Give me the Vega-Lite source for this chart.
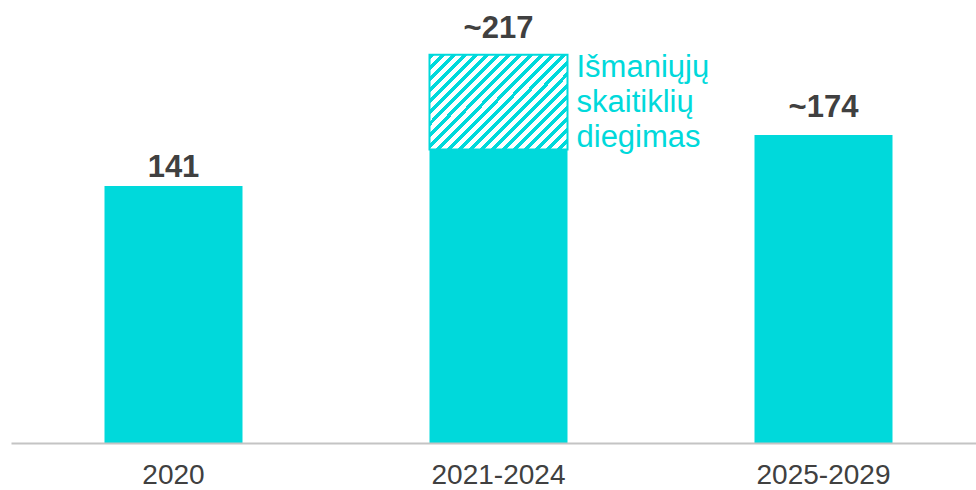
{
  "$schema": "https://vega.github.io/schema/vega-lite/v6.json",
  "autosize": "none",
  "padding": {"left": 11, "top": 0, "right": 0, "bottom": 47},
  "width": 975,
  "height": 443,
  "background": "white",
  "config": {"view": {"stroke": null}, "font": "Liberation Sans"},
  "data": {"values": [
    {"period": "2020", "base": 141, "top": null, "label": "141", "labelValue": 141},
    {"period": "2021-2024", "base": 161, "top": 213, "label": "~217", "labelValue": 217},
    {"period": "2025-2029", "base": 169, "top": null, "label": "~174", "labelValue": 174}
  ]},
  "encoding": {
    "x": {"field": "period", "type": "nominal", "sort": null,
      "scale": {"paddingInner": 0.5754, "paddingOuter": 0.2877},
      "axis": {"title": null, "labelAngle": 0, "ticks": false, "tickSize": 0, "labelPadding": 18,
        "labelFont": "Liberation Sans", "labelFontSize": 28, "labelColor": "#404040",
        "domainColor": "#c4c4c4", "domainWidth": 2, "zindex": 1}}
  },
  "layer": [
    {
      "mark": {"type": "bar", "color": "#00D9DB"},
      "encoding": {
        "y": {"field": "base", "type": "quantitative", "scale": {"domain": [0, 243], "nice": false}, "axis": null}
      }
    },
    {
      "transform": [{"filter": "datum.top != null"}],
      "mark": {"type": "bar", "stroke": "#00D9DB", "strokeWidth": 2,
        "fill": {"gradient": "linear", "x1": 0, "y1": 0, "x2": 1.148, "y2": 0.782, "stops": [
          {"offset": 0, "color": "#00D9DB"}, {"offset": 0.0214, "color": "#00D9DB"}, {"offset": 0.0214, "color": "#ffffff"}, {"offset": 0.0476, "color": "#ffffff"},
          {"offset": 0.0476, "color": "#00D9DB"}, {"offset": 0.0690, "color": "#00D9DB"}, {"offset": 0.0690, "color": "#ffffff"}, {"offset": 0.0952, "color": "#ffffff"},
          {"offset": 0.0952, "color": "#00D9DB"}, {"offset": 0.1167, "color": "#00D9DB"}, {"offset": 0.1167, "color": "#ffffff"}, {"offset": 0.1429, "color": "#ffffff"},
          {"offset": 0.1429, "color": "#00D9DB"}, {"offset": 0.1643, "color": "#00D9DB"}, {"offset": 0.1643, "color": "#ffffff"}, {"offset": 0.1905, "color": "#ffffff"},
          {"offset": 0.1905, "color": "#00D9DB"}, {"offset": 0.2119, "color": "#00D9DB"}, {"offset": 0.2119, "color": "#ffffff"}, {"offset": 0.2381, "color": "#ffffff"},
          {"offset": 0.2381, "color": "#00D9DB"}, {"offset": 0.2595, "color": "#00D9DB"}, {"offset": 0.2595, "color": "#ffffff"}, {"offset": 0.2857, "color": "#ffffff"},
          {"offset": 0.2857, "color": "#00D9DB"}, {"offset": 0.3071, "color": "#00D9DB"}, {"offset": 0.3071, "color": "#ffffff"}, {"offset": 0.3333, "color": "#ffffff"},
          {"offset": 0.3333, "color": "#00D9DB"}, {"offset": 0.3548, "color": "#00D9DB"}, {"offset": 0.3548, "color": "#ffffff"}, {"offset": 0.3810, "color": "#ffffff"},
          {"offset": 0.3810, "color": "#00D9DB"}, {"offset": 0.4024, "color": "#00D9DB"}, {"offset": 0.4024, "color": "#ffffff"}, {"offset": 0.4286, "color": "#ffffff"},
          {"offset": 0.4286, "color": "#00D9DB"}, {"offset": 0.4500, "color": "#00D9DB"}, {"offset": 0.4500, "color": "#ffffff"}, {"offset": 0.4762, "color": "#ffffff"},
          {"offset": 0.4762, "color": "#00D9DB"}, {"offset": 0.4976, "color": "#00D9DB"}, {"offset": 0.4976, "color": "#ffffff"}, {"offset": 0.5238, "color": "#ffffff"},
          {"offset": 0.5238, "color": "#00D9DB"}, {"offset": 0.5452, "color": "#00D9DB"}, {"offset": 0.5452, "color": "#ffffff"}, {"offset": 0.5714, "color": "#ffffff"},
          {"offset": 0.5714, "color": "#00D9DB"}, {"offset": 0.5929, "color": "#00D9DB"}, {"offset": 0.5929, "color": "#ffffff"}, {"offset": 0.6190, "color": "#ffffff"},
          {"offset": 0.6190, "color": "#00D9DB"}, {"offset": 0.6405, "color": "#00D9DB"}, {"offset": 0.6405, "color": "#ffffff"}, {"offset": 0.6667, "color": "#ffffff"},
          {"offset": 0.6667, "color": "#00D9DB"}, {"offset": 0.6881, "color": "#00D9DB"}, {"offset": 0.6881, "color": "#ffffff"}, {"offset": 0.7143, "color": "#ffffff"},
          {"offset": 0.7143, "color": "#00D9DB"}, {"offset": 0.7357, "color": "#00D9DB"}, {"offset": 0.7357, "color": "#ffffff"}, {"offset": 0.7619, "color": "#ffffff"},
          {"offset": 0.7619, "color": "#00D9DB"}, {"offset": 0.7833, "color": "#00D9DB"}, {"offset": 0.7833, "color": "#ffffff"}, {"offset": 0.8095, "color": "#ffffff"},
          {"offset": 0.8095, "color": "#00D9DB"}, {"offset": 0.8310, "color": "#00D9DB"}, {"offset": 0.8310, "color": "#ffffff"}, {"offset": 0.8571, "color": "#ffffff"},
          {"offset": 0.8571, "color": "#00D9DB"}, {"offset": 0.8786, "color": "#00D9DB"}, {"offset": 0.8786, "color": "#ffffff"}, {"offset": 0.9048, "color": "#ffffff"},
          {"offset": 0.9048, "color": "#00D9DB"}, {"offset": 0.9262, "color": "#00D9DB"}, {"offset": 0.9262, "color": "#ffffff"}, {"offset": 0.9524, "color": "#ffffff"},
          {"offset": 0.9524, "color": "#00D9DB"}, {"offset": 0.9738, "color": "#00D9DB"}, {"offset": 0.9738, "color": "#ffffff"}, {"offset": 1, "color": "#ffffff"}
        ]}},
      "encoding": {
        "y": {"field": "top", "type": "quantitative"},
        "y2": {"field": "base"}
      }
    },
    {
      "mark": {"type": "text", "font": "Liberation Sans", "fontSize": 31, "fontWeight": "bold", "color": "#404040", "baseline": "alphabetic", "align": "center", "dy": -9},
      "encoding": {
        "y": {"field": "labelValue", "type": "quantitative"},
        "text": {"field": "label"}
      }
    },
    {
      "transform": [{"filter": "datum.top != null"}],
      "mark": {"type": "text", "font": "Liberation Sans", "fontSize": 31, "color": "#00D9DB", "baseline": "alphabetic", "align": "left", "lineHeight": 35, "dx": 9, "dy": 22,
        "text": ["Išmaniųjų", "skaitiklių", "diegimas"]},
      "encoding": {
        "x": {"field": "period", "type": "nominal", "sort": null, "bandPosition": 1},
        "y": {"field": "top", "type": "quantitative"}
      }
    }
  ]
}
